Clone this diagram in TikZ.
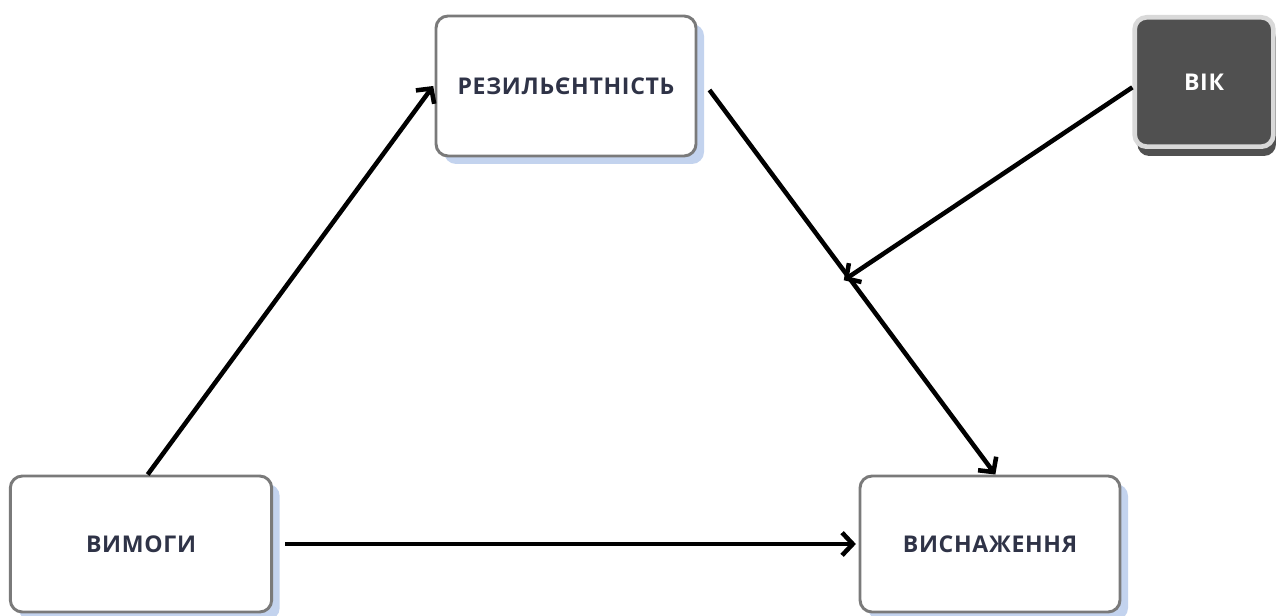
\documentclass[tikz,border=0pt]{standalone}
\usepackage{fontspec}
\usepackage{tikz}
\usetikzlibrary{calc, positioning, shadows, arrows.meta}
\newfontfamily\labelfont[LetterSpace=3]{Open Sans}
\definecolor{InkNavy}{HTML}{2F3347}
\definecolor{FrameGrey}{HTML}{7A7A7A}
\definecolor{ShadeBlue}{HTML}{C3D3EE}
\definecolor{DarkFill}{HTML}{505050}
\definecolor{LightRim}{HTML}{D9D9D9}

\begin{document}
\begin{tikzpicture}[
        x=0.75pt, y=-0.75pt,
        box/.style={
            draw=FrameGrey, line width=2.2pt, fill=white,
            rounded corners=9pt,
            text=InkNavy, font=\labelfont\bfseries\fontsize{17.3}{20}\selectfont,
            drop shadow={shadow xshift=6pt, shadow yshift=-6pt,
                fill=ShadeBlue, opacity=1},
        },
        darkbox/.style={
            draw=LightRim, line width=3.5pt, fill=DarkFill,
            rounded corners=9pt,
            text=white, font=\labelfont\bfseries\fontsize{17.3}{20}\selectfont,
            drop shadow={shadow xshift=2pt, shadow yshift=-7pt,
                fill=DarkFill, opacity=1},
        },
        link/.style={
            line width=3.4pt, draw=black,
            -{Straight Barb[length=8pt, width=17pt]},
        },
    ]

    \useasboundingbox (0,0) rectangle (1276,616);

    % Boxes
    \node[box, minimum width=195pt, minimum height=105pt]
        (rez) at (566,86) {РЕЗИЛЬЄНТНІСТЬ};
    \node[darkbox, minimum width=104pt, minimum height=97pt]
        (vik) at (1204,82) {ВІК};
    \node[box, minimum width=196pt, minimum height=102pt]
        (vym) at (141,544) {ВИМОГИ};
    \node[box, minimum width=195pt, minimum height=102pt]
        (vysn) at (990,544) {ВИСНАЖЕННЯ};

    % Paths
    \coordinate (mid) at ($(rez.east)!0.5!(vysn.north)$);

    \draw[link] ([xshift=5pt]vym.north) -- ([xshift=-1pt]rez.west);
    \draw[link] ([xshift=9pt, yshift=-3pt]rez.east) -- ([xshift=4pt]vysn.north);
    \draw[link] ([yshift=-4pt]vik.west) -- (mid);
    \draw[link] ([xshift=9pt]vym.east) -- ([xshift=-2pt]vysn.west);

\end{tikzpicture}
\end{document}
